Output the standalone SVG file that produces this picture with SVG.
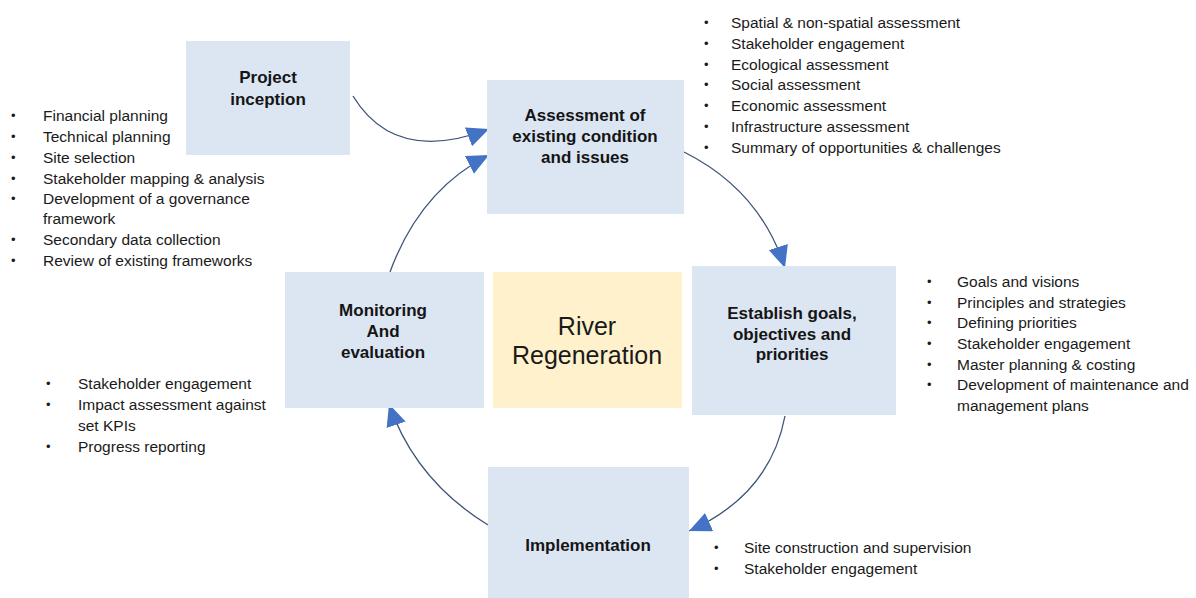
<svg xmlns="http://www.w3.org/2000/svg" width="1196" height="598" viewBox="0 0 1196 598">
  <style>
    .box { fill: #dce6f3; }
    .core { fill: #fff1cc; }
    .title { font-family: "Liberation Sans", Arial, sans-serif; font-size: 17px; font-weight: bold; fill: #151515; text-anchor: middle; }
    .big { font-family: "Liberation Sans", Arial, sans-serif; font-size: 25px; fill: #1a1a1a; text-anchor: middle; }
    .list { font-family: "Liberation Sans", Arial, sans-serif; font-size: 15.5px; fill: #1a1a1a; }
    .dot { font-family: "Liberation Sans", Arial, sans-serif; font-size: 13px; fill: #1a1a1a; }
    .flow { fill: none; stroke: #3d5378; stroke-width: 1.3; marker-end: url(#head); }
  </style>
  <defs>
    <marker id="head" markerUnits="userSpaceOnUse" markerWidth="24" markerHeight="22" refX="22" refY="10" orient="auto">
      <path d="M0,0 L22,10 L0,20 z" fill="#4472c4"/>
    </marker>
  </defs>

  <rect width="1196" height="598" fill="#ffffff"/>

  <g id="connectors">
    <path class="flow" d="M353,96 Q395,165 489,129"/>
    <path class="flow" d="M390,272 Q420,190 489,155"/>
    <path class="flow" d="M684,152 Q760,190 785,268"/>
    <path class="flow" d="M785,416 Q770,495 689,531"/>
    <path class="flow" d="M488,525 Q415,480 389,404"/>
  </g>

  <g id="project-inception">
    <rect class="box" x="186" y="41" width="164" height="114"/>
    <text class="title" x="268" y="83">Project</text>
    <text class="title" x="268" y="105">inception</text>
  </g>

  <g id="assessment">
    <rect class="box" x="487" y="80" width="197" height="134"/>
    <text class="title" x="585" y="121">Assessment of</text>
    <text class="title" x="585" y="142">existing condition</text>
    <text class="title" x="585" y="163">and issues</text>
  </g>

  <g id="establish-goals">
    <rect class="box" x="692" y="266" width="204" height="149"/>
    <text class="title" x="792" y="319">Establish goals,</text>
    <text class="title" x="792" y="340">objectives and</text>
    <text class="title" x="792" y="360">priorities</text>
  </g>

  <g id="monitoring">
    <rect class="box" x="285" y="272" width="199" height="136"/>
    <text class="title" x="383" y="316">Monitoring</text>
    <text class="title" x="383" y="337">And</text>
    <text class="title" x="383" y="358">evaluation</text>
  </g>

  <g id="river-regeneration">
    <rect class="core" x="493" y="272" width="189" height="136"/>
    <text class="big" x="587" y="335">River</text>
    <text class="big" x="587" y="364">Regeneration</text>
  </g>

  <g id="implementation">
    <rect class="box" x="488" y="467" width="201" height="131"/>
    <text class="title" x="588" y="551">Implementation</text>
  </g>

  <g id="inception-tasks">
    <text class="dot" x="11" y="120">•</text><text class="list" x="43" y="121">Financial planning</text>
    <text class="dot" x="11" y="141">•</text><text class="list" x="43" y="142">Technical planning</text>
    <text class="dot" x="11" y="162">•</text><text class="list" x="43" y="163">Site selection</text>
    <text class="dot" x="11" y="183">•</text><text class="list" x="43" y="184">Stakeholder mapping &amp; analysis</text>
    <text class="dot" x="11" y="203">•</text><text class="list" x="43" y="204">Development of a governance</text>
    <text class="list" x="43" y="224">framework</text>
    <text class="dot" x="11" y="244">•</text><text class="list" x="43" y="245">Secondary data collection</text>
    <text class="dot" x="11" y="265">•</text><text class="list" x="43" y="266">Review of existing frameworks</text>
  </g>

  <g id="assessment-tasks">
    <text class="dot" x="704" y="27">•</text><text class="list" x="731" y="28">Spatial &amp; non-spatial assessment</text>
    <text class="dot" x="704" y="48">•</text><text class="list" x="731" y="49">Stakeholder engagement</text>
    <text class="dot" x="704" y="69">•</text><text class="list" x="731" y="70">Ecological assessment</text>
    <text class="dot" x="704" y="89">•</text><text class="list" x="731" y="90">Social assessment</text>
    <text class="dot" x="704" y="110">•</text><text class="list" x="731" y="111">Economic assessment</text>
    <text class="dot" x="704" y="131">•</text><text class="list" x="731" y="132">Infrastructure assessment</text>
    <text class="dot" x="704" y="152">•</text><text class="list" x="731" y="153">Summary of opportunities &amp; challenges</text>
  </g>

  <g id="goal-tasks">
    <text class="dot" x="927" y="286">•</text><text class="list" x="957" y="287">Goals and visions</text>
    <text class="dot" x="927" y="307">•</text><text class="list" x="957" y="308">Principles and strategies</text>
    <text class="dot" x="927" y="327">•</text><text class="list" x="957" y="328">Defining priorities</text>
    <text class="dot" x="927" y="348">•</text><text class="list" x="957" y="349">Stakeholder engagement</text>
    <text class="dot" x="927" y="369">•</text><text class="list" x="957" y="370">Master planning &amp; costing</text>
    <text class="dot" x="927" y="389">•</text><text class="list" x="957" y="390">Development of maintenance and</text>
    <text class="list" x="957" y="411">management plans</text>
  </g>

  <g id="monitoring-tasks">
    <text class="dot" x="46" y="388">•</text><text class="list" x="78" y="389">Stakeholder engagement</text>
    <text class="dot" x="46" y="409">•</text><text class="list" x="78" y="410">Impact assessment against</text>
    <text class="list" x="78" y="431">set KPIs</text>
    <text class="dot" x="46" y="451">•</text><text class="list" x="78" y="452">Progress reporting</text>
  </g>

  <g id="implementation-tasks">
    <text class="dot" x="714" y="552">•</text><text class="list" x="744" y="553">Site construction and supervision</text>
    <text class="dot" x="714" y="573">•</text><text class="list" x="744" y="574">Stakeholder engagement</text>
  </g>
</svg>
